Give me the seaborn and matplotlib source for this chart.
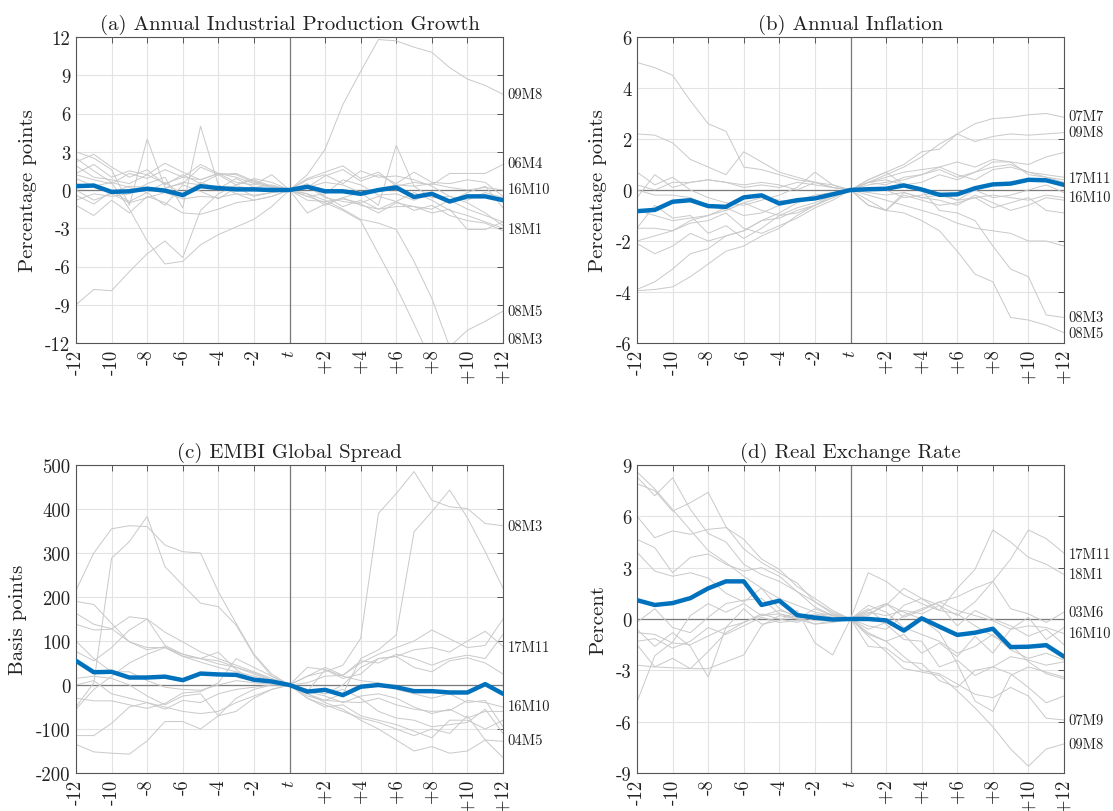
import numpy as np
import pandas as pd
import matplotlib
matplotlib.use("Agg")
import matplotlib.pyplot as plt
import matplotlib.transforms as mtransforms
import seaborn as sns

# ---------------- data ----------------
horizon = list(range(-12, 13))
xtick_labels = ["-12", "-10", "-8", "-6", "-4", "-2", "$t$", "+2", "+4", "+6", "+8", "+10", "+12"]

# (a) Annual Industrial Production Growth
ip_episodes = {
    "09M8": [1.2, 0.8, 0.5, 1.3, 0.9, 1.6, 1.0, 0.8, 1.3, 1.2, 0.6, 0.3, 0, 1.2, 3.2, 6.7, 9.3, 11.8, 11.7, 11.2, 10.8, 9.6, 8.7, 8.2, 7.5],
    "08M3": [2.5, 1.5, 0.6, -1.5, -4.0, -5.8, -5.6, -4.3, -3.5, -2.9, -2.3, -1.3, 0, -0.5, -1.0, -1.6, -2.4, -5.0, -7.6, -10.5, -13.5, -15.0, -15.5, -15.0, -14.5],
    "08M5": [-9.0, -7.8, -7.9, -6.4, -5.0, -4.0, -5.3, -1.6, -0.3, 0.4, 0.9, 0.6, 0, -0.3, -0.8, -1.5, -2.3, -2.6, -3.1, -5.6, -8.5, -12.3, -11.0, -10.3, -9.5],
    "06M4": [2.2, 2.8, 1.8, 1.0, 1.6, 0.4, 1.2, 0.5, 1.2, 1.3, 0.7, 0.2, 0, 0.9, 1.4, 1.9, 0.9, 1.4, 0.3, 0.6, 0.4, 1.3, 1.3, 1.3, 2.0],
    "16M10": [0.5, 0.3, -0.2, 0.3, 0.2, 0.1, 0.6, 0.4, 0.2, 0.3, 0.1, 0.05, 0, 0.2, 0.6, 0.4, -0.2, 0.1, 0.4, 0.3, 0.5, 0.2, 0.0, 0.2, 0.0],
    "18M1": [1.3, 2.0, 1.0, 1.5, 1.2, 0.5, 1.0, 2.0, 1.3, 1.0, 0.5, 0.2, 0, 0.5, -0.5, -1.3, -0.8, -1.5, -0.9, -1.6, -1.2, -2.0, -2.4, -2.6, -3.2],
    "e7": [3.0, 2.5, 1.6, -1.2, 4.0, 0.2, 0.5, 1.8, 1.2, 0.4, 0.8, 0.3, 0, 0.8, 1.2, 0.5, 1.5, 1.0, 1.1, 0.8, 0.3, -0.5, -1.0, -1.8, -2.8],
    "e8": [-0.8, -0.3, -0.5, -0.3, 0.5, 1.0, -1.4, 5.0, 0.4, -0.3, -0.8, -0.5, 0, 0.3, -0.6, -0.9, -1.1, -1.8, -1.0, -1.3, -1.5, -0.8, -1.5, -2.0, -2.5],
    "e9": [0.0, -0.8, -0.3, -1.0, -0.6, -0.2, -0.7, -0.5, -0.6, -0.3, -0.4, -0.2, 0, -1.8, -1.1, -0.6, -0.2, -1.2, 3.5, 0.3, -0.6, -0.5, -0.8, -0.2, -0.6],
    "e10": [-1.2, -2.0, -0.8, -1.8, -0.5, -1.0, -1.8, -1.9, -1.5, -1.0, -0.8, -0.5, 0, -0.3, -1.2, -0.6, -1.2, -1.5, -1.3, -1.3, -1.8, -1.5, -3.1, -3.1, -2.5],
    "e11": [1.9, 1.0, 0.8, 0.5, 1.2, 2.1, 1.4, 0.8, 1.3, 0.6, 0.4, 1.2, 0, 0.2, 1.1, 1.6, 0.7, 1.2, 0.5, 1.4, 0.6, 0.5, 0.8, 0.6, -0.5],
    "e12": [-0.4, -1.1, -0.1, -0.9, -0.2, -1.2, 0.4, -0.1, -0.7, 0.2, -0.5, -0.2, 0, -0.5, -0.3, 0.8, 0.4, -0.4, -0.3, -0.8, -0.3, -0.9, -0.2, 0.3, -1.4],
    "e13": [0.9, 0.3, 0.6, 0.2, -0.2, 0.6, -0.4, 0.6, 0.1, 0.9, 0.2, 0.4, 0, -0.8, -0.9, -0.7, -1.0, -0.5, -0.9, -0.2, -0.8, -1.6, -2.0, -2.5, -3.0],
}
ip_mean = [0.3, 0.35, -0.15, -0.1, 0.1, -0.05, -0.4, 0.3, 0.15, 0.05, 0.05, 0.0, 0, 0.25, -0.1, -0.1, -0.3, 0.0, 0.2, -0.55, -0.3, -0.9, -0.5, -0.5, -0.8]
ip_labels = {"09M8": 7.5, "06M4": 2.1, "16M10": 0.1, "18M1": -3.1, "08M5": -9.5, "08M3": -11.7}

# (b) Annual Inflation
inf_episodes = {
    "07M7": [5.0, 4.8, 4.5, 3.5, 2.6, 2.3, 0.9, 0.8, 0.6, 0.4, 0.3, 0.1, 0, 0.3, 0.6, 0.9, 1.3, 1.8, 2.2, 2.6, 2.8, 2.85, 2.95, 3.0, 2.85],
    "09M8": [2.2, 2.15, 1.85, 1.2, 0.9, 0.6, 1.5, 1.1, 0.7, 0.5, 0.3, 0.1, 0, 0.4, 0.7, 1.0, 1.5, 1.6, 2.2, 1.9, 2.1, 2.2, 2.15, 2.2, 2.25],
    "17M11": [-2.0, -1.8, -1.6, -1.2, -1.0, -0.7, -1.0, -0.9, -0.6, -0.4, -0.2, -0.1, 0, 0.3, 0.4, 0.2, 0.3, 0.6, 0.4, 0.7, 0.9, 1.0, 0.7, 0.6, 0.5],
    "16M10": [0.2, 0.0, 0.3, 0.3, 0.4, 0.3, 0.1, 0.2, 0.1, 0.3, 0.2, 0.1, 0, -0.1, -0.2, -0.1, -0.3, -0.2, -0.4, -0.3, -0.2, -0.3, -0.4, -0.2, -0.3],
    "08M3": [-1.5, -1.5, -1.6, -1.3, -1.2, -0.9, -1.5, -1.7, -1.4, -1.1, -0.7, -0.4, 0, 0.4, 0.7, 0.2, 0.0, -0.8, -0.9, -1.2, -2.2, -3.1, -3.4, -4.9, -5.0],
    "08M5": [-3.9, -3.6, -3.1, -2.5, -2.3, -1.8, -1.6, -1.2, -1.1, -0.8, -0.6, -0.3, 0, -0.4, -0.8, -0.9, -1.2, -1.6, -2.4, -3.3, -3.6, -5.0, -5.1, -5.3, -5.6],
    "e7": [-3.95, -3.9, -3.8, -3.4, -2.9, -2.4, -2.2, -1.8, -1.5, -1.0, -0.6, -0.3, 0, 0.3, 0.5, 0.7, 0.8, 0.9, 1.1, 0.9, 1.2, 1.1, 1.0, 1.3, 1.47],
    "e8": [0.7, 0.2, 0.5, 0.0, -0.3, -0.5, -0.6, -0.4, -0.2, 0.1, 0.7, 0.2, 0, -0.6, -0.8, -0.2, -0.4, -0.6, -0.5, -0.3, -0.7, -0.5, -0.3, -0.8, -0.9],
    "e9": [-2.1, -2.5, -2.2, -1.7, -2.0, -1.8, -1.6, -1.2, -0.9, -0.5, -0.3, -0.2, 0, -0.2, -0.4, -0.6, -0.8, -1.0, -1.3, -1.5, -1.6, -1.7, -2.0, -2.0, -2.2],
    "e10": [-0.3, 0.6, 0.1, 0.3, 0.4, 0.3, 0.2, 0.3, 0.2, 0.0, 0.3, 0.2, 0, 0.3, 0.2, 0.5, 0.6, 0.9, 0.6, 0.4, 0.8, 0.9, 0.7, 0.5, 0.3],
    "e11": [-0.8, -1.0, -1.2, -1.1, -1.0, -0.8, -0.5, -0.3, -0.4, -0.5, -0.3, -0.2, 0, 0.2, 0.3, 0.4, 0.6, 0.8, 0.5, 0.7, 1.1, 1.1, 0.6, 0.5, 0.4],
    "e12": [-1.5, -0.6, -1.1, -1.0, -1.7, -1.4, -1.9, -1.5, -1.0, -0.9, -0.6, -0.2, 0, -0.6, -0.8, -0.1, -0.3, -0.4, -0.6, -0.2, -0.5, -0.8, -0.6, -0.3, -0.4],
    "e13": [0.0, -0.2, -0.2, -0.3, -0.6, -0.8, -0.5, -0.8, -1.0, -0.7, -0.5, -0.2, 0, 0.1, 0.0, -0.3, -0.2, -0.1, -0.4, 0.0, -0.3, -0.2, 0.0, 0.2, -0.1],
}
inf_mean = [-0.83, -0.78, -0.46, -0.4, -0.63, -0.66, -0.29, -0.21, -0.53, -0.4, -0.33, -0.17, 0, 0.03, 0.05, 0.18, 0.02, -0.19, -0.17, 0.07, 0.22, 0.25, 0.4, 0.38, 0.2]
inf_labels = {"07M7": 2.9, "09M8": 2.25, "17M11": 0.46, "16M10": -0.27, "08M3": -5.0, "08M5": -5.6}

# (c) EMBI Global Spread
embi_episodes = {
    "08M3": [215, 300, 355, 362, 360, 318, 303, 300, 212, 140, 70, 25, 0, 20, 30, 45, 106, 390, 435, 485, 420, 405, 401, 367, 362],
    "e2": [-50, 5, 288, 326, 383, 269, 227, 186, 178, 136, 68, 20, 0, -20, -35, -20, 60, 80, 114, 348, 394, 443, 380, 303, 220],
    "e3": [190, 183, 140, 98, 80, 87, 65, 52, 40, 30, 20, 10, 0, 20, 40, 22, 50, 70, 85, 100, 125, 105, 85, 90, 150],
    "17M11": [163, 138, 128, 98, 85, 85, 70, 60, 55, 40, 25, 10, 0, -10, -20, 0, 40, 60, 65, 80, 85, 75, 100, 122, 88],
    "e5": [138, 125, 127, 155, 150, 120, 98, 75, 60, 45, 30, 15, 0, 5, 20, 22, 55, 50, 70, 60, 45, 60, 68, 60, 115],
    "e6": [76, 55, 85, 125, 150, 90, 70, 60, 48, 40, 28, 12, 0, -15, 35, 15, 25, 60, 65, 40, 30, 55, 62, 50, 25],
    "16M10": [-30, -36, -36, -45, -53, -42, -18, -15, 5, 60, 40, 20, 0, -25, -35, -38, -40, -30, -45, -55, -60, -58, -35, -40, -50],
    "04M5": [-115, -115, -87, -50, -40, -55, -35, -40, -20, -10, -5, 0, 0, -30, -45, -60, -75, -85, -100, -115, -100, -110, -70, -125, -128],
    "e9": [-135, -152, -155, -157, -127, -83, -83, -100, -70, -60, -30, -10, 0, -20, -40, -55, -80, -100, -125, -150, -140, -155, -150, -125, -165],
    "e10": [15, 20, 15, 0, -25, -45, -25, -20, -70, -30, -10, 0, 0, -30, -50, -45, -70, -80, -90, -105, -120, -80, -80, -100, -80],
    "e11": [100, 60, 30, 30, 10, -5, -10, -12, 0, 10, 5, 2, 0, -15, -25, -40, -25, -20, -30, -50, -65, -55, -75, -60, -60],
    "e12": [0, 10, -20, -30, -40, -50, -60, -65, -60, -40, -25, -10, 0, -10, -20, -10, -30, -60, -75, -80, -95, -90, -85, -55, -110],
    "e13": [-55, -10, 20, 50, 70, 85, 65, 60, 75, 35, 10, 5, 0, 40, 35, 20, 10, 5, -10, -20, -30, -20, -40, -35, -95],
}
embi_mean = [55, 29, 30, 17, 17, 19, 11, 26, 24, 23, 12, 8, 0, -15, -11, -23, -4, 0, -5, -14, -14, -17, -17, 2, -20]
embi_labels = {"08M3": 362, "17M11": 86, "16M10": -49, "04M5": -126}

# (d) Real Exchange Rate
rer_episodes = {
    "17M11": [8.6, 7.6, 6.4, 5.2, 4.0, 3.3, 2.5, 1.8, 1.2, 0.8, 0.4, 0.2, 0, 0.4, 0.2, 0.5, 0.3, 0.8, 0.2, 1.0, 2.2, 3.5, 5.2, 4.7, 3.85],
    "18M1": [8.3, 7.2, 8.25, 6.4, 5.0, 4.5, 3.2, 2.6, 2.2, 1.6, 1.0, 0.4, 0, -0.6, -0.2, 0.8, 1.2, 0.5, 1.8, 2.9, 5.2, 4.5, 3.6, 3.2, 2.6],
    "e3": [7.9, 7.5, 6.3, 6.8, 7.4, 5.4, 4.1, 3.3, 2.7, 2.1, 1.0, 0.3, 0, 2.7, 2.2, 1.4, 0.9, 0.5, 0.3, -0.4, -1.0, -1.5, -2.5, -3.2, -3.5],
    "03M6": [6.0, 4.75, 5.15, 4.95, 5.24, 5.34, 4.66, 3.5, 2.9, 1.9, 1.2, 0.5, 0, 0.5, 0.9, 0.1, 0.5, 1.0, 1.3, 1.8, 2.2, 0.6, 0.3, -0.2, 0.4],
    "e5": [4.66, 4.17, 2.7, 3.6, 3.8, 3.2, 2.8, 3.0, 2.5, 1.6, 0.7, 0.2, 0, 0.3, 0.8, 1.8, 1.2, 0.8, -0.4, 0.5, 0.0, -0.4, -1.0, -0.6, -1.5],
    "16M10": [3.9, 2.8, 2.5, 2.7, 2.4, 1.5, 1.0, 1.8, 0.6, 0.1, 0.3, 0.1, 0, -0.4, -0.6, 0.2, 0.6, 1.0, 0.5, 0.2, -0.1, -0.6, -0.4, -0.5, -0.85],
    "e7": [-0.2, 0.6, -0.5, -0.8, 0.1, 0.9, 1.1, 1.2, 0.3, 0.0, -0.3, -0.2, 0, 0.6, -0.3, -1.2, -1.3, -2.8, -2.4, -3.3, -2.8, -2.2, -2.4, -2.7, -2.5],
    "e8": [-0.8, -0.9, -1.4, -1.5, -1.0, -0.5, -0.2, 0.2, 0.5, 0.2, -0.1, -0.1, 0, -1.6, -1.7, -2.5, -2.6, -3.6, -4.0, -3.0, -2.8, -3.2, -4.0, -4.9, -4.5],
    "07M9": [-1.3, -1.15, -1.7, -1.3, -0.5, -0.9, -0.4, 0.1, -0.2, -0.1, 0.2, 0.1, 0, -0.9, -1.3, -2.2, -3.0, -3.2, -3.8, -4.4, -4.6, -4.0, -4.5, -5.8, -5.9],
    "09M8": [-4.85, -2.15, -1.35, 0.2, 0.9, 0.4, 0.9, 0.2, 0.3, 0.1, -0.3, -0.1, 0, -1.0, -1.9, -2.9, -3.1, -3.3, -4.2, -5.2, -6.3, -7.6, -8.6, -7.6, -7.3],
    "e11": [-2.7, -2.8, -2.85, -2.9, -2.9, -2.5, -2.1, -0.4, 0.2, 0.0, 0.6, 0.2, 0, 0.2, 0.9, 0.4, 0.0, -0.8, -2.6, -4.8, -5.4, -3.3, -2.8, -3.1, -3.4],
    "e12": [-0.6, -1.6, -0.8, -1.6, -3.4, -0.5, 0.6, -0.3, -0.1, 0.5, -1.4, -2.1, 0, -0.8, -1.3, -0.9, -2.0, -1.4, -2.2, -1.0, -2.0, -0.6, 0.1, -1.2, -0.5],
    "e13": [-1.5, -2.8, -2.3, -2.9, -1.9, -0.8, -0.2, 0.3, 0.0, -0.2, 0.2, 0.3, 0, 0.8, 0.4, -0.5, -0.9, -1.3, -2.0, -1.6, -0.9, -1.8, -2.3, -2.0, -2.4],
}
rer_mean = [1.1, 0.82, 0.93, 1.22, 1.79, 2.2, 2.2, 0.82, 1.07, 0.23, 0.08, -0.03, 0, 0.0, -0.08, -0.68, 0.04, -0.45, -0.93, -0.8, -0.57, -1.64, -1.62, -1.53, -2.2]
rer_labels = {"17M11": 3.8, "18M1": 2.6, "03M6": 0.4, "16M10": -0.85, "07M9": -5.9, "09M8": -7.3}

panels = [
    ("(a) Annual Industrial Production Growth", "Percentage points", ip_episodes, ip_mean, ip_labels, (-12, 12), list(range(-12, 13, 3))),
    ("(b) Annual Inflation", "Percentage points", inf_episodes, inf_mean, inf_labels, (-6, 6), list(range(-6, 7, 2))),
    ("(c) EMBI Global Spread", "Basis points", embi_episodes, embi_mean, embi_labels, (-200, 500), list(range(-200, 501, 100))),
    ("(d) Real Exchange Rate", "Percent", rer_episodes, rer_mean, rer_labels, (-9, 9), list(range(-9, 10, 3))),
]

# ---------------- style ----------------
sns.set_style("white")
plt.rcParams["font.family"] = ["cmr10", "DejaVu Serif"]
plt.rcParams["mathtext.fontset"] = "cm"
plt.rcParams["axes.unicode_minus"] = False

fig = plt.figure(figsize=(11.13, 8.12), dpi=100)
W, H = 1113, 812
boxes = [(76, 38, 427, 306), (637, 38, 427, 306), (76, 466, 427, 308), (637, 466, 427, 308)]

GREY = "#c9c9c9"
BLUE = "#0072BD"
EDGE = "#555555"

for (title, ylab, eps, mean, labs, ylim, yt), (l, t, w, h) in zip(panels, boxes):
    ax = fig.add_axes([l / W, 1 - (t + h) / H, w / W, h / H])
    long = pd.DataFrame(
        [(k, hz, v) for k, vals in eps.items() for hz, v in zip(horizon, vals)],
        columns=["episode", "h", "value"],
    )
    ax.axhline(0, color="#7a7a7a", lw=0.9, zorder=1)
    ax.axvline(0, color="#7a7a7a", lw=0.9, zorder=1)
    sns.lineplot(data=long, x="h", y="value", units="episode", estimator=None,
                 color=GREY, lw=0.7, ax=ax, legend=False, zorder=2)
    sns.lineplot(x=horizon, y=mean, color=BLUE, lw=3.2, ax=ax, legend=False, zorder=3)

    ax.set_xlim(-12, 12)
    ax.set_ylim(*ylim)
    ax.set_xticks(list(range(-12, 13, 2)))
    ax.set_xticklabels(xtick_labels, rotation=90)
    ax.set_yticks(yt)
    ax.set_yticklabels([str(v) for v in yt])
    ax.grid(True, color="#e3e3e3", lw=0.8, zorder=0)
    ax.set_axisbelow(True)
    for s in ax.spines.values():
        s.set_color(EDGE)
        s.set_linewidth(0.8)
    ax.tick_params(direction="in", top=True, right=True, length=4, width=0.7,
                   color=EDGE, labelsize=13.5, pad=4, labelcolor="#222222")
    ax.set_xlabel("")
    ax.set_ylabel(ylab, fontsize=15, color="#222222", labelpad=6)
    ax.set_title(title, fontsize=15, pad=6, color="#222222")

    trans = mtransforms.blended_transform_factory(ax.transAxes, ax.transData)
    for name, yv in labs.items():
        ax.text(1.011, yv, name, transform=trans, fontsize=10.5, va="center",
                ha="left", color="#222222", clip_on=False)

fig.savefig("out.png", dpi=100)
